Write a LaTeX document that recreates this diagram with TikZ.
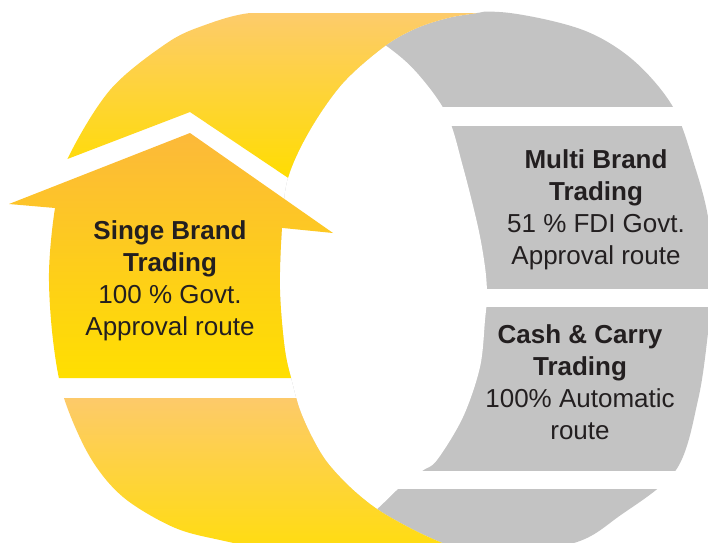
\documentclass[tikz,border=0pt]{standalone}
\usepackage{fontspec}
\setmainfont{Liberation Sans}
\definecolor{ink}{HTML}{231F20}
\definecolor{band}{HTML}{C3C3C3}
\definecolor{ytopA}{HTML}{FDCB6B}
\definecolor{ytopB}{HTML}{FFDD00}
\definecolor{arrA}{HTML}{FCB93A}
\definecolor{arrB}{HTML}{FFDF00}
\definecolor{ybotA}{HTML}{FDCA6A}
\definecolor{ybotB}{HTML}{FFDC12}

% outer rim of the ring
\def\outerpath{plot[smooth cycle, tension=0.55] coordinates {
  (250,13) (315,12) (380,12) (445,12) (510,13) (583,30) (633,60) (673,107)
  (695,167) (708,217) (713,275) (708,333) (698,400) (676,470) (618,517)
  (577,542) (500,557) (400,561) (300,555) (220,540) (173,527) (123,497)
  (90,457) (64,398) (53,340) (49,273) (55,208) (67,160) (110,90) (167,43)
  (205,25)}}
% inner edge of the yellow band (also its border with the grey band)
\def\ycurve{(520,-20) -- plot[smooth, tension=0.55] coordinates {
  (520,4) (480,12.5) (450,17.5) (417,28) (385,46) (343,83) (310,130)
  (288,178) (282,228) (280,290) (285,350) (293,385) (300,410) (312,437)
  (327,462) (350,487) (377,509) (410,528) (440,542) (480,558) (520,572)}
  -- (520,590)}
\def\leftside{\ycurve -- (-60,590) -- (-60,-20) -- cycle}
\def\rightside{\ycurve -- (800,590) -- (800,-20) -- cycle}
% inner edge of the grey band
\def\greyinner{plot[smooth cycle, tension=0.55] coordinates {
  (330,10) (385,45) (417,73) (447,115) (463,167) (478,227) (485,267)
  (487,295) (485,320) (480,367) (463,417) (437,460) (422,471) (398,489)
  (377,509) (340,540) (250,560) (150,300) (250,20)}}

\begin{document}
\begin{tikzpicture}[x=1pt,y=-1pt,
  caption/.style={align=center, font=\fontsize{26}{32}\selectfont,
    text=ink, inner sep=0pt, anchor=base}]
\useasboundingbox (0,0) rectangle (708,542);
\clip (0,0) rectangle (708,542);

% grey band
\begin{scope}
  \clip \rightside;
  \fill[band] \outerpath;
  \fill[white] \greyinner;
\end{scope}
% gaps between the grey segments
\fill[white] (430,107) rectangle (720,126);
\fill[white] (470,288.5) rectangle (720,307);
\fill[white] (375,471) rectangle (720,488.5);

% upper yellow segment
\begin{scope}
  \clip \outerpath;
  \clip \leftside;
  \clip (-50,-20) -- (600,-20) -- (600,253) -- (400,253) -- (190,112)
        -- (-50,204) -- cycle;
  \shade[top color=ytopA, bottom color=ytopB] (-50,13) rectangle (600,180);
\end{scope}

% arrow: head
\begin{scope}
  \clip (9,204) -- (190,133) -- (333,233) -- (283,228) -- (55,208) -- cycle;
  \shade[top color=arrA, bottom color=arrB] (0,133) rectangle (400,378);
\end{scope}
% arrow: shaft
\begin{scope}
  \clip \outerpath;
  \clip \leftside;
  \clip (0,205) -- (290,215) -- (400,215) -- (400,378) -- (0,378) -- cycle;
  \shade[top color=arrA, bottom color=arrB] (0,133) rectangle (400,378);
\end{scope}

% lower yellow segment
\begin{scope}
  \clip \outerpath;
  \clip \leftside;
  \clip (-50,398) rectangle (600,600);
  \shade[top color=ybotA, bottom color=ybotB] (-50,398) rectangle (600,545);
\end{scope}

% captions (anchored at the baseline of their last line)
\node[caption] (sb) at (170,335)
  {\textbf{Singe Brand}\\\textbf{Trading}\\100 \% Govt.\\Approval route};
\node[caption] (mb) at (596,264)
  {\textbf{Multi Brand}\\\textbf{Trading}\\51 \% FDI Govt.\\Approval route};
\node[caption] (cc) at (580,439)
  {\textbf{Cash \& Carry}\\\textbf{Trading}\\100\% Automatic\\route};
\end{tikzpicture}
\end{document}
